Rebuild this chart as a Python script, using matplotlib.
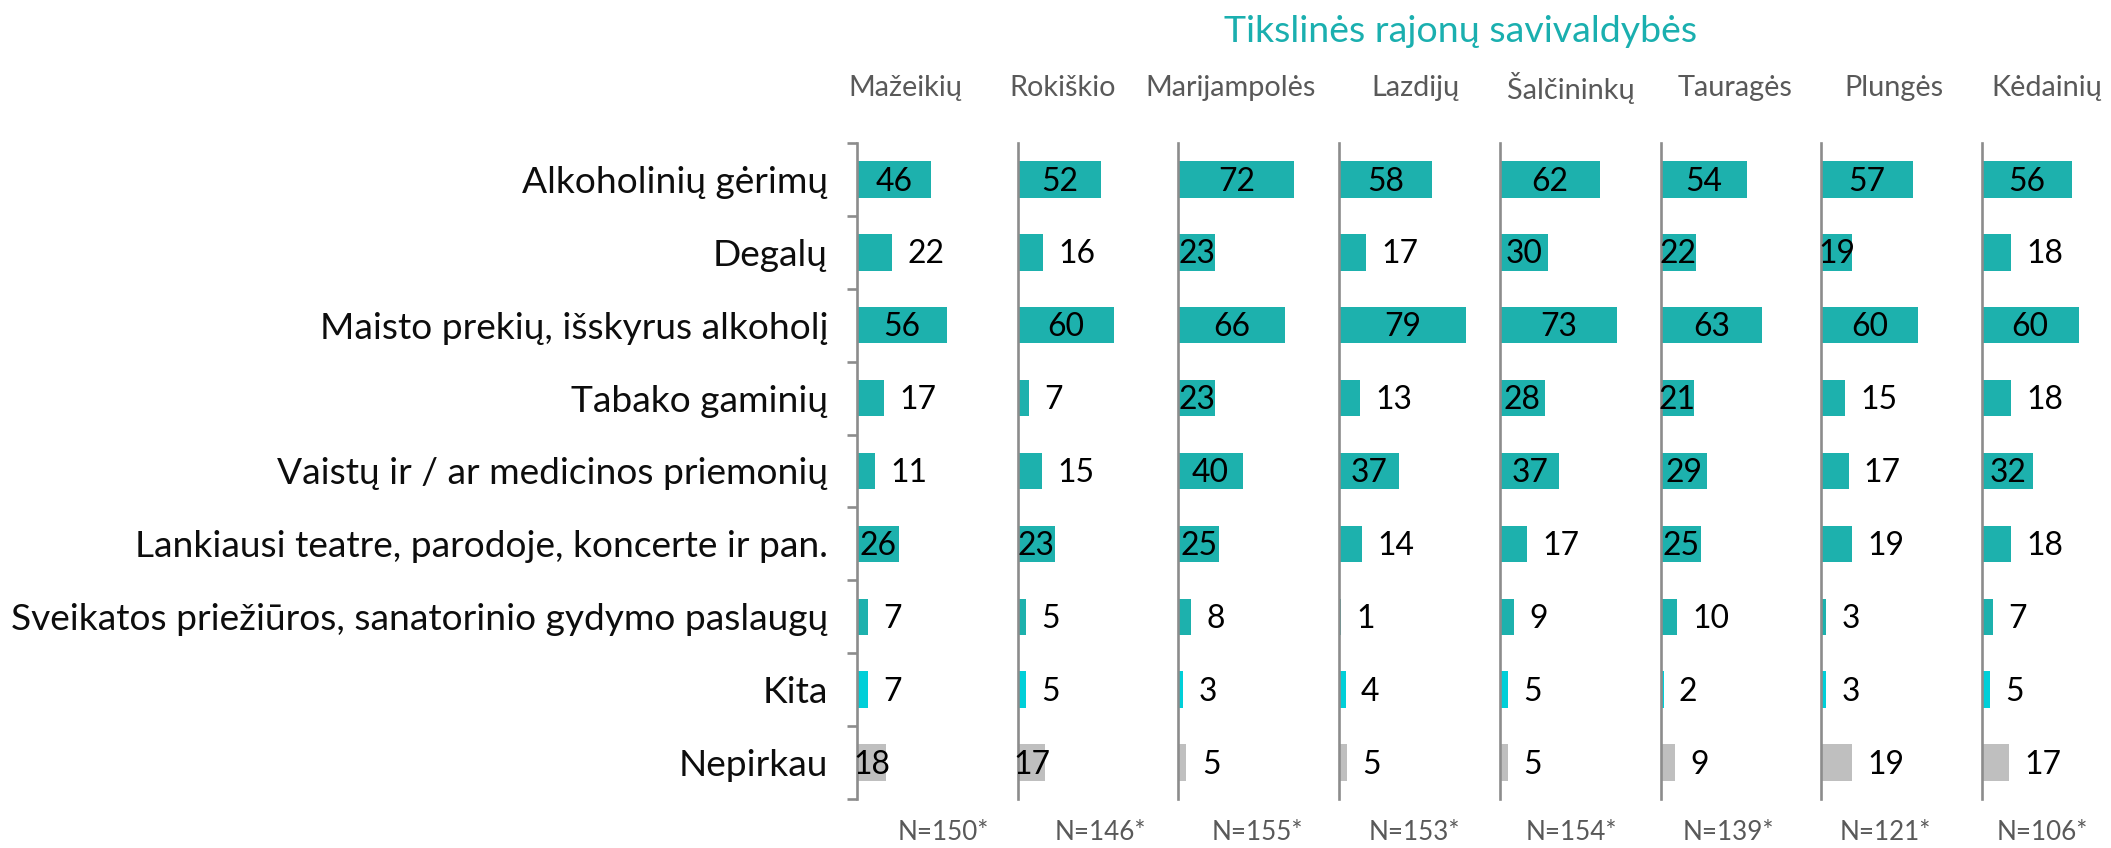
import numpy as np
import matplotlib
matplotlib.use("Agg")
import matplotlib.pyplot as plt
from matplotlib import font_manager as fm

# ---------------- data ----------------
categories = [
    "Alkoholinių gėrimų",
    "Degalų",
    "Maisto prekių, išskyrus alkoholį",
    "Tabako gaminių",
    "Vaistų ir / ar medicinos priemonių",
    "Lankiausi teatre, parodoje, koncerte ir pan.",
    "Sveikatos priežiūros, sanatorinio gydymo paslaugų",
    "Kita",
    "Nepirkau",
]
municipalities = ["Mažeikių", "Rokiškio", "Marijampolės", "Lazdijų",
                  "Šalčininkų", "Tauragės", "Plungės", "Kėdainių"]
sample_sizes = [150, 146, 155, 153, 154, 139, 121, 106]

mazeikiu = [46, 22, 56, 17, 11, 26, 7, 7, 18]
rokiskio = [52, 16, 60, 7, 15, 23, 5, 5, 17]
marijampoles = [72, 23, 66, 23, 40, 25, 8, 3, 5]
lazdiju = [58, 17, 79, 13, 37, 14, 1, 4, 5]
salcininku = [62, 30, 73, 28, 37, 17, 9, 5, 5]
taurages = [54, 22, 63, 21, 29, 25, 10, 2, 9]
plunges = [57, 19, 60, 15, 17, 19, 3, 3, 19]
kedainiu = [56, 18, 60, 18, 32, 18, 7, 5, 17]
series = [mazeikiu, rokiskio, marijampoles, lazdiju,
          salcininku, taurages, plunges, kedainiu]

title = "Tikslinės rajonų savivaldybės"

# ---------------- style / layout ----------------
# label placement per panel: 1 = inside bar, 0 = outside bar end
label_inside = [
    [1, 0, 1, 0, 0, 1, 0, 0, 1],
    [1, 0, 1, 0, 0, 1, 0, 0, 1],
    [1, 1, 1, 1, 1, 1, 0, 0, 0],
    [1, 0, 1, 0, 1, 0, 0, 0, 0],
    [1, 1, 1, 1, 1, 0, 0, 0, 0],
    [1, 1, 1, 1, 1, 1, 0, 0, 0],
    [1, 1, 1, 0, 0, 0, 0, 0, 0],
    [1, 0, 1, 0, 1, 0, 0, 0, 0],
]
header_offsets_px = [48, 45, 52, 76, 71, 75, 73, 65]

TEAL = "#1DB1AD"
TITLE_TEAL = "#1AAFAF"
CYAN = "#00CFD8"
GRAY = "#BFBFBF"
AXIS_GRAY = "#8C8C8C"
TEXT_GRAY = "#595959"
bar_colors = [TEAL] * 7 + [CYAN, GRAY]


def pick_font():
    for fam in ["Segoe UI", "Lato", "Open Sans", "Noto Sans", "DejaVu Sans"]:
        try:
            fm.findfont(fm.FontProperties(family=fam), fallback_to_default=False)
            return fam
        except Exception:
            pass
    return "DejaVu Sans"


FONT = pick_font()
WEIGHT = "normal"
plt.rcParams["font.family"] = [FONT, "DejaVu Sans"]
plt.rcParams["font.weight"] = WEIGHT

W, H, DPI = 2111, 848, 100
fig = plt.figure(figsize=(W / DPI, H / DPI), dpi=DPI)
fig.patch.set_facecolor("white")
renderer = fig.canvas.get_renderer()


def fit_size(sample, target_px):
    t = fig.text(0, 0, sample, fontsize=10, fontweight=WEIGHT)
    w = t.get_window_extent(renderer).width
    t.remove()
    return 10.0 * target_px / w


cat_fs = fit_size(categories[6], 817)
val_fs = fit_size("72", 37)
n_fs = fit_size("N=150*", 91)
head_fs = fit_size("Marijampolės", 171)
title_fs = fit_size(title, 473)

AX_TOP, AX_BOT = 143, 799
FIRST_AX = 857
PANEL_STEP = 160.7
UNIT_PX = 1.61
LABEL_GAP_PX = 29

n_cat = len(categories)
ypos = np.arange(n_cat)

for i, (vals, inside) in enumerate(zip(series, label_inside)):
    left = FIRST_AX + i * PANEL_STEP
    width = min(PANEL_STEP, W - left)
    ax = fig.add_axes([left / W, 1 - AX_BOT / H, width / W, (AX_BOT - AX_TOP) / H])
    ax.set_xlim(0, width / UNIT_PX)
    ax.set_ylim(n_cat - 0.5, -0.5)
    ax.barh(ypos, vals, height=0.5, color=bar_colors, zorder=2)
    for s in ["top", "right", "bottom"]:
        ax.spines[s].set_visible(False)
    ax.spines["left"].set_color(AXIS_GRAY)
    ax.spines["left"].set_linewidth(1.9)
    ax.spines["left"].set_zorder(3)
    ax.set_xticks([])
    ax.patch.set_alpha(0)
    if i == 0:
        ax.set_yticks(ypos)
        ax.set_yticklabels(categories, fontsize=cat_fs, color="#0D0D0D")
        ax.tick_params(axis="y", which="major", length=0,
                       pad=LABEL_GAP_PX * 72 / DPI)
        ax.set_yticks(np.arange(-0.5, n_cat, 1.0), minor=True)
        ax.tick_params(axis="y", which="minor", length=7.5, width=1.9,
                       color=AXIS_GRAY, direction="out")
    else:
        ax.set_yticks([])
    for j, (v, ins) in enumerate(zip(vals, inside)):
        if ins:
            ax.annotate(str(v), (v / 2, j), xytext=(0, -1.5), textcoords="offset points",
                        ha="center", va="center", fontsize=val_fs, color="black",
                        zorder=4)
        else:
            ax.annotate(str(v), (v, j), xytext=(11, -1.5), textcoords="offset points",
                        ha="left", va="center", fontsize=val_fs, color="black",
                        zorder=4)
    # column header
    fig.text((left + header_offsets_px[i]) / W, 1 - 88 / H, municipalities[i],
             ha="center", va="center", fontsize=head_fs, color=TEXT_GRAY)
    # sample size
    fig.text((943 + 157.1 * i) / W, 1 - 833 / H, f"N={sample_sizes[i]}*",
             ha="center", va="center", fontsize=n_fs, color=TEXT_GRAY)

fig.text(1461 / W, 1 - 31 / H, title, ha="center", va="center",
         fontsize=title_fs, color=TITLE_TEAL)

fig.savefig("out.png", dpi=DPI, facecolor="white")
